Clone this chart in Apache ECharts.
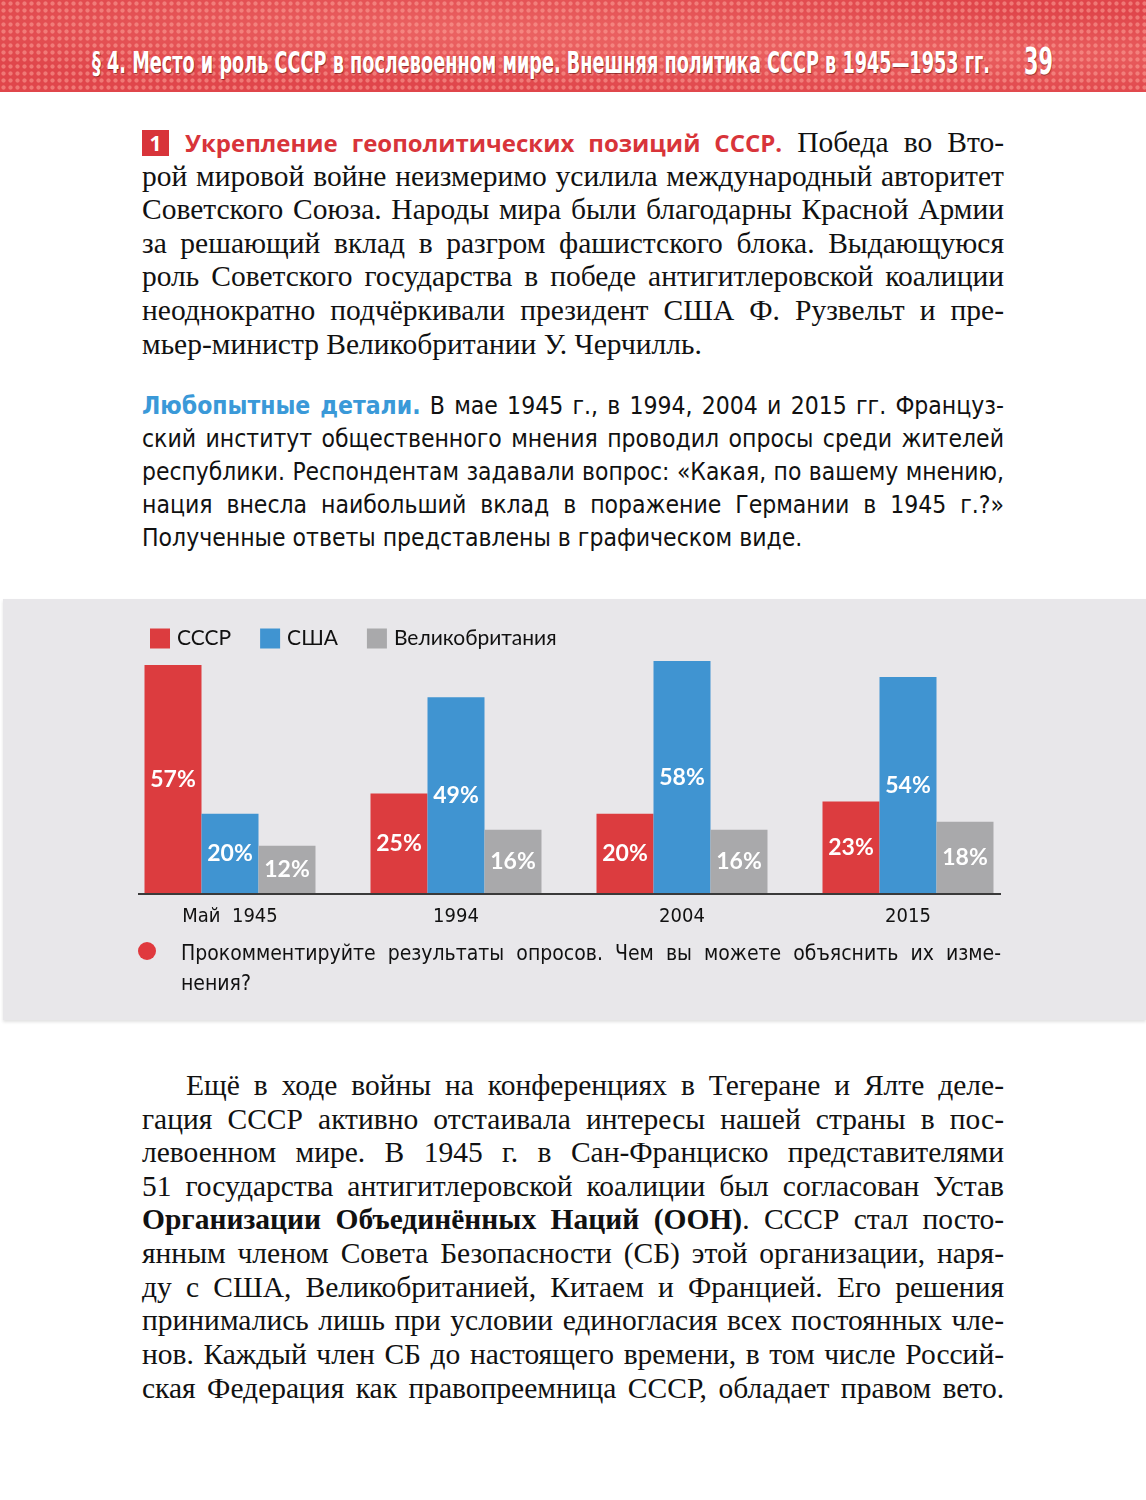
<!DOCTYPE html>
<html>
<head>
<meta charset="utf-8">
<script src="https://cdn.jsdelivr.net/npm/echarts@6/dist/echarts.min.js"></script>
<style>
  html, body { margin: 0; padding: 0; background: #fff; }
  #page { position: relative; width: 1146px; height: 1500px; overflow: hidden; background: #fff; }
  #head {
    position: absolute; left: 0; top: 0; width: 1146px; height: 92px;
    background-color: #e0464b;
    background-image:
      radial-gradient(circle, rgba(255,170,160,0.5) 1.7px, transparent 2.5px),
      radial-gradient(ellipse at 40% 30%, rgba(255,150,140,0.35), transparent 60%),
      radial-gradient(ellipse at 85% 60%, rgba(255,150,140,0.3), transparent 55%);
    background-size: 7px 7px, 100% 100%, 100% 100%;
  }
  .htxt { position: absolute; color: #fff; font-family: "Liberation Sans Narrow", "DejaVu Sans Condensed", sans-serif;
    font-weight: bold; white-space: nowrap; transform-origin: 0 50%; text-shadow: 1px 1px 1px rgba(90,10,10,0.6); }
  .ln { position: absolute; left: 142px; width: 862px; white-space: nowrap; text-align: justify; text-align-last: justify; color: #111; }
  .ln.last { text-align-last: left; }
  .serif { font-family: "Liberation Serif", "DejaVu Serif", serif; font-size: 29.5px; height: 34px; line-height: 34px; }
  .sans { font-family: "Liberation Sans Narrow", "DejaVu Sans Condensed", sans-serif; font-size: 24.5px; height: 33px; line-height: 33px; }
  .red-h { font-family: "Open Sans", sans-serif; font-weight: bold; color: #d8343a; font-size: 24px; }
  .blue-h { font-weight: bold; color: #3a99d8; }
  .num { display: inline-block; width: 27px; height: 26px; line-height: 26px; background: #d8343a; color: #fff; text-align: center;
    font-family: "Open Sans", sans-serif; font-weight: bold; font-size: 21px; vertical-align: 1px; margin-right: 16px; text-align-last: center; }
  #panel { position: absolute; left: 3px; top: 599px; width: 1143px; height: 421px; background: #e8e7ea;
    box-shadow: 0 2px 3px rgba(0,0,0,0.12); }
  #chart { width: 1143px; height: 421px; }
  #q { position: absolute; left: 181px; font-family: "Liberation Sans Narrow", "DejaVu Sans Condensed", sans-serif; font-size: 21px; color: #111; }
  #q div { height: 30px; line-height: 30px; width: 820px; white-space: nowrap; text-align: justify; text-align-last: justify; }
  #q div.last { text-align-last: left; }
  #dot { position: absolute; left: 138px; top: 942px; width: 18px; height: 18px; border-radius: 50%; background: #e0393e; }
</style>
</head>
<body>
<div id="page">
  <div id="head">
    <div class="htxt" id="htitle" style="left:92px; top:44px; font-size:31px; line-height:36px;">§ 4. Место и роль СССР в послевоенном мире. Внешняя политика СССР в 1945—1953 гг.</div>
    <div class="htxt" id="hnum" style="left:1024px; top:40px; font-size:38px; line-height:42px;">39</div>
  </div>

  <div class="ln serif" style="top:125px;"><span class="num">1</span><span class="red-h">Укрепление геополитических позиций СССР.</span> Победа во Вто-</div>
  <div class="ln serif" style="top:159px;">рой мировой войне неизмеримо усилила международный авторитет</div>
  <div class="ln serif" style="top:192px;">Советского Союза. Народы мира были благодарны Красной Армии</div>
  <div class="ln serif" style="top:226px;">за решающий вклад в разгром фашистского блока. Выдающуюся</div>
  <div class="ln serif" style="top:259px;">роль Советского государства в победе антигитлеровской коалиции</div>
  <div class="ln serif" style="top:293px;">неоднократно подчёркивали президент США Ф. Рузвельт и пре-</div>
  <div class="ln serif last" style="top:327px;">мьер-министр Великобритании У. Черчилль.</div>

  <div class="ln sans" style="top:389px;"><span class="blue-h">Любопытные детали.</span> В мае 1945 г., в 1994, 2004 и 2015 гг. Француз-</div>
  <div class="ln sans" style="top:422px;">ский институт общественного мнения проводил опросы среди жителей</div>
  <div class="ln sans" style="top:455px;">республики. Респондентам задавали вопрос: «Какая, по вашему мнению,</div>
  <div class="ln sans" style="top:488px;">нация внесла наибольший вклад в поражение Германии в 1945 г.?»</div>
  <div class="ln sans last" style="top:521px;">Полученные ответы представлены в графическом виде.</div>

  <div id="panel"><div id="chart"></div></div>
  <div id="dot"></div>
  <div id="q" style="top:938px;">
    <div>Прокомментируйте результаты опросов. Чем вы можете объяснить их изме-</div>
    <div class="last">нения?</div>
  </div>

  <div class="ln serif" style="top:1068px; left:186px; width:818px;">Ещё в ходе войны на конференциях в Тегеране и Ялте деле-</div>
  <div class="ln serif" style="top:1102px;">гация СССР активно отстаивала интересы нашей страны в пос-</div>
  <div class="ln serif" style="top:1135px;">левоенном мире. В 1945 г. в Сан-Франциско представителями</div>
  <div class="ln serif" style="top:1169px;">51 государства антигитлеровской коалиции был согласован Устав</div>
  <div class="ln serif" style="top:1202px;"><b>Организации Объединённых Наций (ООН)</b>. СССР стал посто-</div>
  <div class="ln serif" style="top:1236px;">янным членом Совета Безопасности (СБ) этой организации, наря-</div>
  <div class="ln serif" style="top:1270px;">ду с США, Великобританией, Китаем и Францией. Его решения</div>
  <div class="ln serif" style="top:1303px;">принимались лишь при условии единогласия всех постоянных чле-</div>
  <div class="ln serif" style="top:1337px;">нов. Каждый член СБ до настоящего времени, в том числе Россий-</div>
  <div class="ln serif" style="top:1371px;">ская Федерация как правопреемница СССР, обладает правом вето.</div>
</div>

<script>
// подгоняем шапку под ширину полосы
function fitWidth(id, w) {
  var el = document.getElementById(id);
  var nat = el.getBoundingClientRect().width;
  el.style.transform = 'scaleX(' + (w / nat) + ')';
}
fitWidth('htitle', 898);
fitWidth('hnum', 29);

// строки, которые не влезли, чуть ужимаем
document.querySelectorAll('.ln, #q div').forEach(function (el) {
  if (el.scrollWidth > el.clientWidth) {
    var k = el.clientWidth / el.scrollWidth;
    var fs = parseFloat(getComputedStyle(el).fontSize);
    el.style.fontSize = (fs * k - 0.1) + 'px';
  }
});

// данные опроса
var years = ['Май  1945', '1994', '2004', '2015'];
var seriesNames = ['СССР', 'США', 'Великобритания'];
var ussr = [57, 25, 20, 23];
var usa = [20, 49, 58, 54];
var uk = [12, 16, 16, 18];
var colors = ['#dc3c3f', '#4094d1', '#a9a9ab'];

// геометрия сетки (в координатах контейнера)
var gridLeft = 114, gridWidth = 904, gridTop = 54, gridHeight = 241;

var chart = echarts.init(document.getElementById('chart'));

var barLabel = {
  show: true,
  position: 'inside',
  color: '#fff',
  fontFamily: 'Lato, "Open Sans", sans-serif',
  fontWeight: 'bold',
  fontSize: 23,
  formatter: '{c}%'
};

function makeSeries(name, data, color) {
  return {
    name: name,
    type: 'bar',
    data: data,
    barWidth: 57,
    barGap: '0%',
    itemStyle: { color: color },
    label: barLabel
  };
}

chart.setOption({
  animation: false,
  color: colors,
  legend: {
    left: 142,
    top: 24,
    itemWidth: 20,
    itemHeight: 20,
    itemGap: 29,
    icon: 'rect',
    data: seriesNames,
    textStyle: { fontFamily: 'Lato, "Open Sans", sans-serif', fontSize: 21, color: '#111', padding: [2, 0, 0, 2] }
  },
  grid: { left: gridLeft, width: gridWidth, top: gridTop, height: gridHeight },
  xAxis: {
    type: 'category',
    data: years,
    axisLine: { show: false },
    axisTick: { show: false },
    axisLabel: {
      margin: 13,
      fontFamily: '"Liberation Sans Narrow", "DejaVu Sans Condensed", sans-serif',
      fontSize: 20,
      color: '#111'
    }
  },
  yAxis: {
    type: 'value',
    min: 0,
    max: 60,
    show: false
  },
  series: [
    makeSeries(seriesNames[0], ussr, colors[0]),
    makeSeries(seriesNames[1], usa, colors[1]),
    makeSeries(seriesNames[2], uk, colors[2])
  ],
  graphic: [{
    type: 'line',
    shape: { x1: 135, y1: gridTop + gridHeight, x2: 998, y2: gridTop + gridHeight },
    style: { stroke: '#3a3a3a', lineWidth: 2 },
    z: 10
  }]
});
</script>
</body>
</html>
